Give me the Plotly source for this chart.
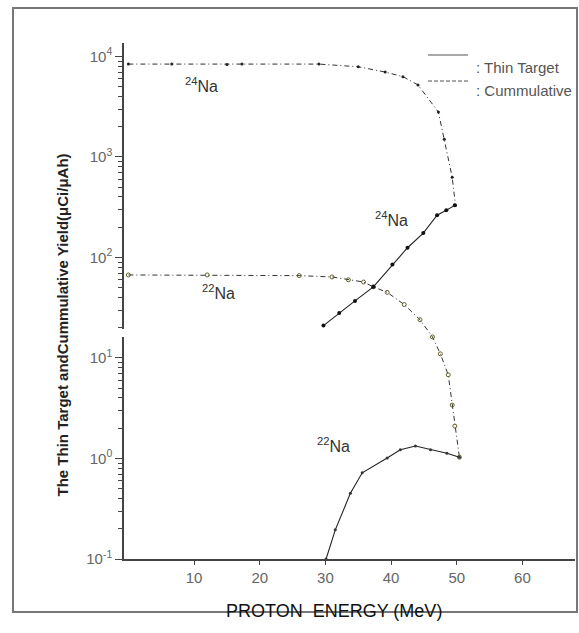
import plotly.graph_objects as go

# ---------------- data ----------------
na24_thin_x = [29.7, 32.1, 34.5, 37.3, 40.2, 42.5, 44.9, 47.0, 48.4, 49.7]
na24_thin_y = [21, 28, 37, 51, 85, 125, 175, 263, 295, 330]

na24_cum_x = [0, 6.6, 15, 17.3, 29, 35, 39.1, 41.8, 44.1, 47.2, 48.1, 49.3, 49.8]
na24_cum_y = [8400, 8400, 8300, 8400, 8400, 7900, 7000, 6300, 5200, 2800, 1500, 630, 330]

na22_cum_x = [0, 12, 26, 31, 33.5, 35.8, 37.3, 39.4, 42, 44.4, 46.3, 47.5, 48.7, 49.3, 49.7, 50.4]
na22_cum_y = [67, 67, 66, 64, 60, 57, 51, 45, 34, 24, 16.2, 11, 6.8, 3.4, 2.1, 1.03]

na22_thin_x = [30.1, 31.5, 33.8, 35.6, 39.4, 41.4, 43.7, 46.0, 48.5, 50.4]
na22_thin_y = [0.1, 0.195, 0.45, 0.72, 1.01, 1.22, 1.33, 1.22, 1.13, 1.03]

x_tickvals = [10, 20, 30, 40, 50, 60]
y_tickvals = [0.1, 1, 10, 100, 1000, 10000]
y_ticktext = ["10<sup>-1</sup>", "10<sup>0</sup>", "10<sup>1</sup>",
              "10<sup>2</sup>", "10<sup>3</sup>", "10<sup>4</sup>"]
y_minor = [m * d for d in [0.1, 1, 10, 100, 1000] for m in range(2, 10)]

legend_labels = [": Thin Target", ": Cummulative"]
iso_labels = ["<sup>24</sup>Na", "<sup>24</sup>Na", "<sup>22</sup>Na", "<sup>22</sup>Na"]

# ---------------- layout geometry ----------------
W, H = 579, 633
L, R, T, B = 124, 575, 43, 559  # plot area in pixels


def px(x):
    return (x - L) / (R - L)


def py(y):
    return (B - y) / (B - T)


FONT = "Liberation Sans, Arial, sans-serif"
dash_cum = "5px,3px,1px,3px"

fig = go.Figure()
fig.add_trace(go.Scatter(x=na24_cum_x, y=na24_cum_y, mode="lines+markers",
                         line=dict(color="#333", width=1, dash=dash_cum),
                         marker=dict(size=3, color="#222"), showlegend=False))
fig.add_trace(go.Scatter(x=na22_cum_x, y=na22_cum_y, mode="lines+markers",
                         line=dict(color="#333", width=1, dash=dash_cum),
                         marker=dict(size=4, symbol="circle-open", color="#665f2a",
                                     line=dict(width=1)), showlegend=False))
fig.add_trace(go.Scatter(x=na24_thin_x, y=na24_thin_y, mode="lines+markers",
                         line=dict(color="#222", width=1.1),
                         marker=dict(size=4, color="#111"), showlegend=False))
fig.add_trace(go.Scatter(x=na22_thin_x, y=na22_thin_y, mode="lines+markers",
                         line=dict(color="#222", width=1.1),
                         marker=dict(size=3, color="#333"), showlegend=False))

annotations = []
# isotope labels (left edge, vertical centre of "Na" in pixels)
for (lx, cy), txt in zip([(183, 78), (373, 212), (200, 297), (315, 462)], iso_labels):
    annotations.append(dict(x=px(lx), y=py(cy - 5), xref="paper", yref="paper",
                            text=txt, showarrow=False, xanchor="left",
                            font=dict(family=FONT, size=16, color="#333")))
# legend
for (ty, txt) in zip([57, 80], legend_labels):
    annotations.append(dict(x=px(474), y=py(ty), xref="paper", yref="paper",
                            text=txt, showarrow=False, xanchor="left",
                            font=dict(family=FONT, size=15, color="#555")))
# axis titles
annotations.append(dict(x=px(51), y=py(325), xref="paper", yref="paper",
                        text="<b>The Thin Target andCummulative Yield(μCi/μAh)</b>",
                        textangle=-90, showarrow=False,
                        font=dict(family=FONT, size=15, color="#222")))
annotations.append(dict(x=px(334), y=py(623), xref="paper", yref="paper",
                        text="PROTON  ENERGY (MeV)", showarrow=False,
                        font=dict(family=FONT, size=18, color="#111")))

shapes = [
    # outer frame
    dict(type="rect", xref="paper", yref="paper",
         x0=px(13), x1=px(577), y0=py(612), y1=py(8),
         line=dict(color="#777", width=2), layer="below"),
    # legend line samples
    dict(type="line", xref="paper", yref="paper", x0=px(428), x1=px(468),
         y0=py(55), y1=py(55), line=dict(color="#555", width=1.2)),
    dict(type="line", xref="paper", yref="paper", x0=px(428), x1=px(468),
         y0=py(81), y1=py(81), line=dict(color="#555", width=1.2, dash="4px,2px")),
    # small break in the y axis
    dict(type="rect", xref="paper", yref="paper", x0=px(116), x1=px(128),
         y0=py(337), y1=py(329), fillcolor="white", line=dict(width=0), layer="above"),
]

fig.update_layout(
    width=W, height=H,
    margin=dict(l=L, r=W - R, t=T, b=H - B),
    paper_bgcolor="white", plot_bgcolor="white",
    font=dict(family=FONT),
    annotations=annotations, shapes=shapes,
    xaxis=dict(range=[-0.67, 68.0], tickmode="array", tickvals=x_tickvals,
               ticks="outside", ticklen=4, tickcolor="#444",
               showline=True, linecolor="#444", linewidth=1.5,
               showgrid=False, zeroline=False,
               tickfont=dict(family=FONT, size=15, color="#666")),
    yaxis=dict(type="log", range=[-1, 4.134], tickmode="array",
               tickvals=y_tickvals, ticktext=y_ticktext,
               ticks="outside", ticklen=7, tickcolor="#444",
               minor=dict(tickmode="array", tickvals=y_minor, ticks="outside",
                          ticklen=4, tickcolor="#444", showgrid=False),
               showline=True, linecolor="#444", linewidth=1.5,
               showgrid=False, zeroline=False,
               tickfont=dict(family=FONT, size=15, color="#666")),
)

fig.write_html("out.html")
